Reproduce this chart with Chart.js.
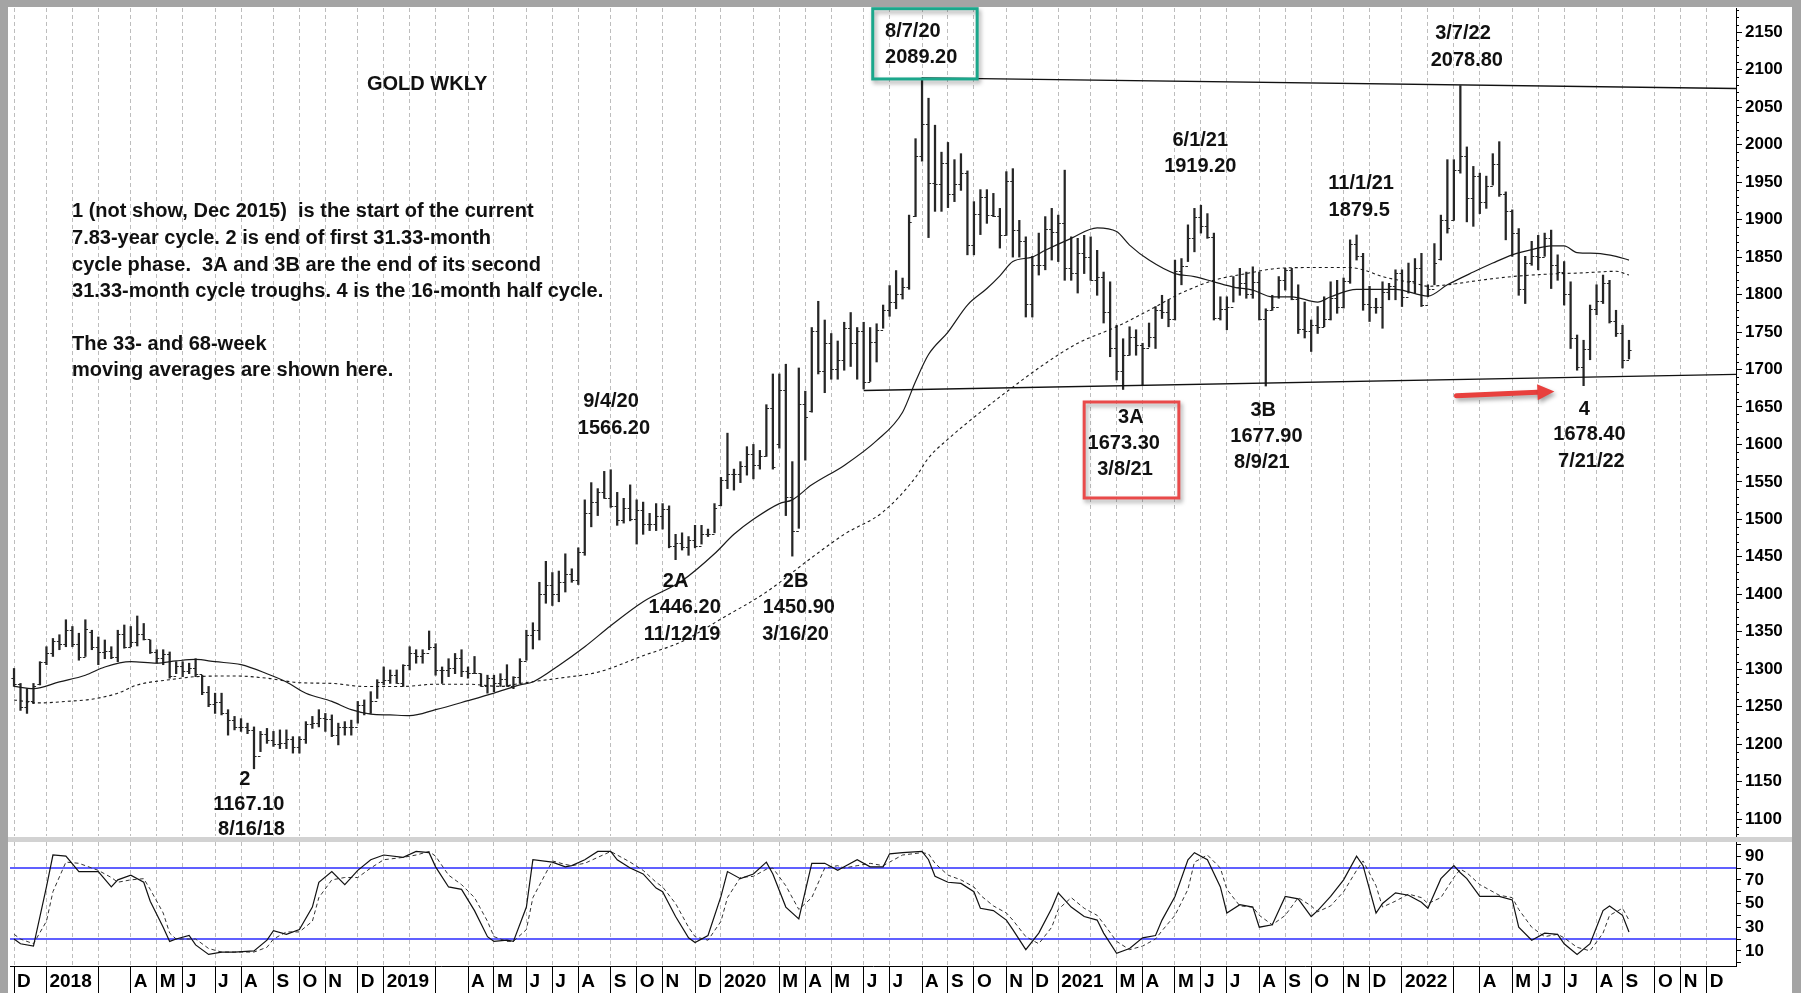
<!DOCTYPE html>
<html>
<head>
<meta charset="utf-8">
<script src="https://cdn.jsdelivr.net/npm/chart.js@4.4.1/dist/chart.umd.min.js"></script>
<style>
html, body { margin: 0; padding: 0; background: #a4a4a4; }
#wrap { position: relative; width: 1801px; height: 993px; overflow: hidden; }
#topPane { position: absolute; left: 8px; top: 7px; width: 1784px; height: 830px; background: #fff; }
#gap { position: absolute; left: 8px; top: 837px; width: 1784px; height: 5px; background: #d2d2d2; }
#botPane { position: absolute; left: 8px; top: 842px; width: 1784px; height: 151px; background: #fff; }
</style>
</head>
<body>
<div id="wrap">
  <div id="topPane"><canvas id="priceChart" width="1784" height="830"></canvas></div>
  <div id="gap"></div>
  <div id="botPane"><canvas id="stochChart" width="1784" height="151"></canvas></div>
</div>
<script>
// weekly bars, week 0 = week ending Fri 1 Dec 2017
var highs = [
  1301,1281,1274,1281,1310,1330,1341,1346,1366,1357,
  1348,1366,1352,1343,1339,1330,1352,1359,1357,1371,
  1361,1339,1326,1326,1323,1310,1310,1308,1314,1292,
  1277,1268,1268,1246,1237,1234,1228,1223,1217,1221,
  1217,1219,1219,1210,1210,1230,1237,1246,1241,1239,
  1228,1230,1232,1257,1259,1270,1286,1303,1299,1299,
  1306,1330,1326,1326,1351,1334,1303,1314,1321,1326,
  1303,1317,1294,1292,1292,1294,1306,1290,1314,1352,
  1362,1416,1444,1429,1431,1454,1434,1462,1526,1549,
  1541,1564,1566.2,1536,1528,1546,1526,1523,1508,1521,
  1521,1518,1480,1482,1477,1492,1492,1487,1521,1556,
  1615,1567,1577,1597,1600,1592,1653,1694,1694,1707,
  1577,1702,1671,1756,1791,1766,1748,1738,1763,1776,
  1756,1763,1756,1761,1786,1812,1832,1822,1906,2008,
  2089.2,2062,2026,1990,2003,1980,1988,1965,1924,1940,
  1940,1935,1915,1964,1968,1899,1877,1851,1882,1904,
  1915,1906,1966,1877,1875,1879,1877,1859,1830,1817,
  1759,1741,1757,1753,1735,1762,1784,1799,1793,1846,
  1848,1893,1915,1919.2,1908,1882,1797,1797,1824,1835,
  1830,1837,1830,1781,1799,1824,1835,1835,1813,1790,
  1766,1784,1797,1817,1819,1822,1873,1879.5,1855,1811,
  1795,1817,1815,1833,1833,1842,1848,1855,1813,1868,
  1906,1980,1980,2078.8,1997,1971,1962,1958,1988,2004,
  1937,1913,1888,1851,1871,1879,1882,1886,1853,1844,
  1817,1746,1739,1786,1813,1826,1819,1779,1759,1739
];
var lows = [
  1277,1245,1241,1254,1279,1306,1317,1326,1330,1330,
  1312,1317,1326,1306,1314,1314,1310,1328,1330,1331,
  1339,1321,1308,1306,1288,1294,1290,1294,1290,1266,
  1250,1241,1239,1212,1219,1217,1214,1167.1,1190,1201,
  1197,1194,1194,1188,1188,1201,1221,1223,1217,1210,
  1199,1212,1212,1228,1239,1241,1261,1279,1281,1281,
  1277,1299,1308,1308,1326,1292,1281,1290,1294,1290,
  1288,1294,1277,1268,1270,1277,1277,1274,1281,1312,
  1327,1339,1388,1385,1390,1403,1416,1413,1452,1490,
  1505,1528,1516,1492,1495,1498,1467,1480,1485,1485,
  1487,1462,1446.2,1459,1452,1462,1467,1477,1482,1518,
  1541,1539,1549,1559,1554,1567,1584,1567,1595,1505,
  1450.9,1488,1579,1643,1694,1669,1687,1687,1699,1704,
  1687,1674,1684,1710,1755,1771,1781,1794,1807,1904,
  1978,1876,1911,1911,1916,1924,1939,1853,1853,1880,
  1895,1904,1862,1879,1850,1850,1770,1770,1826,1833,
  1846,1844,1819,1819,1802,1828,1819,1799,1762,1717,
  1686,1673.3,1719,1719,1679,1730,1728,1768,1757,1766,
  1813,1844,1857,1882,1875,1766,1766,1753,1790,1799,
  1795,1795,1766,1677.9,1779,1795,1806,1793,1748,1742,
  1724,1748,1757,1766,1775,1782,1815,1846,1779,1764,
  1775,1755,1793,1793,1784,1802,1802,1784,1797,1813,
  1846,1882,1899,1962,1897,1891,1908,1915,1946,1931,
  1873,1851,1799,1788,1839,1833,1851,1808,1819,1786,
  1728,1699,1678.4,1713,1773,1788,1762,1744,1702,1714
];
var opens = [
  1288,1280,1249,1257,1280,1309,1322,1338,1333,1352,
  1333,1316,1350,1330,1323,1324,1316,1347,1329,1336,
  1347,1340,1323,1315,1320,1291,1304,1298,1302,1293,
  1270,1254,1256,1242,1232,1223,1223,1219,1184,1213,
  1206,1200,1201,1207,1196,1207,1227,1228,1235,1233,
  1212,1223,1223,1223,1252,1241,1258,1283,1286,1292,
  1282,1305,1322,1318,1322,1329,1299,1299,1302,1315,
  1298,1295,1295,1278,1288,1281,1287,1277,1289,1311,
  1346,1352,1400,1413,1400,1416,1427,1419,1457,1509,
  1523,1537,1529,1518,1499,1515,1500,1512,1494,1494,
  1505,1514,1465,1468,1463,1472,1465,1481,1481,1519,
  1552,1560,1560,1571,1587,1573,1584,1648,1600,1672,
  1530,1484,1654,1645,1752,1698,1735,1700,1713,1756,
  1735,1751,1683,1737,1753,1780,1790,1801,1810,1905,
  1985,2028,1949,1947,1975,1934,1947,1962,1866,1907,
  1930,1906,1905,1879,1951,1886,1872,1788,1840,1840,
  1888,1883,1895,1835,1829,1855,1850,1820,1823,1777,
  1728,1698,1719,1744,1733,1728,1744,1780,1777,1768,
  1832,1838,1876,1903,1891,1877,1769,1781,1783,1810,
  1815,1801,1817,1768,1779,1784,1819,1833,1794,1754,
  1751,1760,1757,1767,1796,1783,1818,1868,1852,1788,
  1783,1784,1804,1811,1829,1797,1818,1835,1786,1807,
  1848,1899,1900,1966,1985,1929,1958,1923,1945,1974,
  1934,1911,1882,1808,1842,1851,1850,1875,1840,1830,
  1801,1742,1703,1727,1781,1791,1815,1765,1749,1712
];
var closes = [
  1280,1249,1257,1278,1309,1322,1338,1333,1352,1333,
  1316,1353,1330,1323,1324,1316,1347,1329,1336,1347,
  1340,1323,1315,1320,1291,1304,1298,1302,1293,1270,
  1254,1256,1242,1232,1223,1223,1219,1184,1213,1206,
  1200,1201,1207,1196,1207,1227,1228,1235,1233,1212,
  1223,1223,1223,1252,1241,1258,1283,1286,1292,1282,
  1305,1322,1318,1322,1329,1299,1299,1302,1315,1298,
  1295,1295,1278,1288,1281,1287,1277,1289,1311,1346,
  1352,1400,1413,1400,1416,1427,1419,1457,1509,1523,
  1537,1529,1518,1499,1515,1500,1512,1494,1494,1505,
  1514,1465,1468,1463,1472,1465,1481,1481,1515,1552,
  1560,1560,1571,1587,1573,1584,1648,1570,1672,1530,
  1484,1654,1637,1752,1698,1735,1700,1713,1756,1735,
  1751,1683,1737,1753,1780,1790,1801,1810,1897,1985,
  2028,1949,1947,1975,1934,1947,1962,1866,1907,1930,
  1906,1905,1879,1951,1886,1872,1788,1840,1840,1888,
  1883,1895,1835,1829,1855,1850,1820,1823,1777,1728,
  1698,1719,1744,1733,1728,1744,1780,1777,1768,1832,
  1838,1876,1903,1891,1877,1769,1781,1783,1810,1815,
  1801,1817,1768,1779,1784,1819,1833,1794,1754,1751,
  1760,1757,1767,1796,1783,1818,1868,1852,1788,1783,
  1784,1804,1811,1829,1797,1818,1835,1786,1807,1842,
  1899,1889,1966,1985,1929,1958,1923,1945,1974,1934,
  1911,1882,1808,1842,1851,1850,1875,1840,1830,1801,
  1742,1703,1727,1781,1791,1815,1765,1749,1712,1726
];

// 33-week moving average (solid)
var ma33Weeks = [0,3,7,11,14,18,22,25,28,31,35,39,42,45,49,52,55,58,61,65,70,74,78,80,84,88,92,97,103,108,
  111,114,118,120,123,128,133,137,139,141,144,147,150,152,154,157,159,163,167,170,172,175,179,182,185,188,191,194,197,201,
  203,207,213,218,221,225,228,231,234,237,239,241,244,247,249];
var ma33 = [1277,1274,1283,1292,1303,1310,1308,1311,1313,1310,1306,1294,1283,1268,1257,1246,1240,1239,1238,1246,
  1258,1268,1279,1283,1305,1330,1358,1390,1418,1454,1480,1500,1521,1526,1546,1572,1605,1643,1684,1720,
  1750,1786,1808,1825,1844,1850,1859,1875,1889,1884,1866,1846,1828,1824,1817,1810,1806,1797,1797,1790,
  1797,1807,1807,1798,1813,1830,1842,1853,1860,1865,1865,1856,1855,1851,1846];

// 68-week moving average (dotted)
var ma68Weeks = [0,4,8,12,16,19,24,28,34,39,44,49,54,60,65,70,75,78,84,90,97,103,109,116,123,128,134,139,141,144,
  149,153,159,164,170,175,180,185,190,195,200,206,208,211,216,218,221,226,231,236,242,247,249];
var ma68 = [1259,1255,1257,1260,1268,1279,1286,1290,1291,1288,1282,1281,1277,1277,1280,1280,1277,1281,1288,1296,
  1318,1337,1367,1403,1449,1480,1510,1556,1582,1607,1643,1670,1708,1735,1757,1779,1802,1819,1828,1835,
  1836,1836,1833,1824,1815,1811,1813,1819,1824,1827,1829,1831,1826];

// trend lines [week, price]
var resistanceLine = [[140, 2089.2], [265.5, 2075]];
var supportLine = [[131, 1672], [265.5, 1693.5]];

// stochastic (lower panel)
var stochWeeks = [0,1,3,5,6,8,10,13,15,16,18,20,21,23,24,25,27,28,30,32,34,37,39,40,42,44,46,47,49,51,
  53,55,57,60,62,64,65,67,69,71,73,74,76,77,79,80,83,85,86,88,90,92,93,95,97,99,100,102,104,105,
  107,109,110,112,114,116,117,119,121,123,125,127,128,130,132,134,135,137,140,141,142,144,146,148,149,151,153,154,156,158,
  160,161,163,165,167,168,170,172,174,176,177,179,181,182,184,186,187,189,191,192,194,196,198,200,201,203,205,207,208,210,
  211,213,215,217,218,220,222,223,224,226,229,231,232,234,236,238,239,241,243,245,246,248,249];
var stochK = [20,16,14,64,91,90,77,77,64,70,74,68,52,30,18,20,23,15,7,9,9,10,19,27,24,28,47,68,77,66,
  78,87,91,89,94,93,81,64,62,44,22,18,19,18,47,87,85,81,82,87,94,94,87,80,75,63,60,39,21,17,
  23,56,77,71,75,85,75,47,37,84,84,78,81,87,81,81,92,93,94,87,73,68,67,60,46,44,36,28,11,25,
  46,59,47,39,36,25,8,12,21,23,36,56,87,93,87,64,42,49,47,30,32,56,54,39,44,56,70,90,82,42,
  50,59,57,51,46,71,82,76,71,56,56,53,30,19,25,24,16,7,16,44,48,40,26];
var stochD = [24,20,16,35,60,85,84,78,72,68,70,71,62,42,25,20,20,20,12,9,9,9,13,20,26,26,35,55,70,72,
  72,80,87,89,91,94,90,74,66,55,35,22,18,18,28,55,86,83,82,84,89,94,91,85,78,68,64,50,30,22,
  19,35,55,72,73,79,80,65,45,55,80,82,80,82,84,82,85,91,93,92,84,74,70,64,57,48,42,36,22,16,
  30,45,55,46,40,33,18,11,14,20,27,40,62,85,91,80,62,48,47,40,32,40,55,48,43,48,60,78,86,65,
  47,52,58,55,50,55,72,79,76,66,57,55,45,30,22,24,21,13,10,25,40,46,36];
var stochLevels = [20, 80];

// axis ticks
var monthWeeks = [0,5,9,13,18,22,26,31,35,40,44,48,53,57,61,65,70,74,79,83,87,92,96,100,105,
  109,114,118,122,126,131,135,140,144,148,153,157,161,166,170,174,179,183,187,192,196,200,205,209,
  214,218,222,226,231,235,239,244,248,253,257,261];
var monthLabels = ['D','2018','','','A','M','J','J','A','S','O','N','D','2019','','','A','M','J','J','A','S','O','N','D',
  '2020','','M','A','M','J','J','A','S','O','N','D','2021','','M','A','M','J','J','A','S','O','N','D',
  '2022','','','A','M','J','J','A','S','O','N','D'];
var priceLabels = [1100,1150,1200,1250,1300,1350,1400,1450,1500,1550,1600,1650,1700,1750,1800,1850,1900,1950,2000,2050,2100,2150];
var stochLabels = [10,30,50,70,90];

// annotations: text placed at [week, price]
var notes = [
  ['GOLD WKLY', 63.7, 2079.7, 'center'],
  ['1 (not show, Dec 2015)  is the start of the current', 8.94, 1910.6, 'left'],
  ['7.83-year cycle. 2 is end of first 31.33-month', 8.94, 1875.1, 'left'],
  ['cycle phase.  3A and 3B are the end of its second', 8.94, 1839.4, 'left'],
  ['31.33-month cycle troughs. 4 is the 16-month half cycle.', 8.94, 1803.8, 'left'],
  ['The 33- and 68-week', 8.94, 1732.7, 'left'],
  ['moving averages are shown here.', 8.94, 1699.3, 'left'],
  ['8/7/20', 134.3, 2150.4, 'left'],
  ['2089.20', 134.3, 2115.7, 'left'],
  ['6/1/21', 182.9, 2006.2, 'center'],
  ['1919.20', 182.9, 1971.5, 'center'],
  ['11/1/21', 207.7, 1948.5, 'center'],
  ['1879.5', 207.4, 1912.8, 'center'],
  ['3/7/22', 223.4, 2148.7, 'center'],
  ['2078.80', 224.0, 2113.0, 'center'],
  ['9/4/20', 92.05, 1656.9, 'center'],
  ['1566.20', 92.5, 1621.2, 'center'],
  ['2A', 102.0, 1417.5, 'center'],
  ['1446.20', 103.4, 1381.7, 'center'],
  ['11/12/19', 103.0, 1346.9, 'center'],
  ['2B', 120.5, 1417.5, 'center'],
  ['1450.90', 121.0, 1381.7, 'center'],
  ['3/16/20', 120.5, 1346.9, 'center'],
  ['3A', 172.2, 1636.2, 'center'],
  ['1673.30', 171.1, 1601.5, 'center'],
  ['3/8/21', 171.3, 1565.9, 'center'],
  ['3B', 192.6, 1645.9, 'center'],
  ['1677.90', 193.1, 1611.2, 'center'],
  ['8/9/21', 192.4, 1575.6, 'center'],
  ['4', 242.1, 1646.9, 'center'],
  ['1678.40', 242.9, 1612.6, 'center'],
  ['7/21/22', 243.2, 1576.9, 'center'],
  ['2', 35.6, 1153.1, 'center'],
  ['1167.10', 36.2, 1118.8, 'center'],
  ['8/16/18', 36.6, 1085.6, 'center']
];
var boxes = [
  {from: [132.4, 2181.5], to: [148.5, 2087.7], color: '#1ba78b'},
  {from: [165.0, 1656.6], to: [179.6, 1528.5], color: '#e94a4a'}
];
var arrow = {from: [222.4, 1664.9], to: [237.5, 1670.6], color: '#e8403d'};

var xMin = -0.62, xMax = 265.5;
var FONT = "'Liberation Sans', Arial, sans-serif";
Chart.defaults.font.family = FONT;
Chart.defaults.color = '#000';

function pts(xs, ys) { return xs.map(function (x, i) { return {x: x, y: ys[i]}; }); }
function pairPts(arr) { return arr.map(function (p) { return {x: p[0], y: p[1]}; }); }

function monthAxis(showLabels) {
  return {
    type: 'linear', min: xMin, max: xMax, offset: false,
    afterBuildTicks: function (s) { s.ticks = monthWeeks.map(function (v) { return {value: v}; }); },
    afterFit: function (s) { s.height = showLabels ? 27 : 0; s.paddingLeft = 0; s.paddingRight = 0; },
    grid: {
      color: '#bdbdbd', lineWidth: 1, offset: false, borderDash: [4, 3],
      drawTicks: showLabels, tickLength: 27, tickWidth: 1, tickBorderDash: [],
      tickColor: function (c) {
        var i = c.index;
        if (monthLabels[i] === '' && i > 0 && /^\d{4}$/.test(monthLabels[i - 1])) return 'rgba(0,0,0,0)';
        return '#000';
      }
    },
    border: { display: showLabels, color: '#000', width: 1, dash: [4, 3] },
    ticks: {
      display: showLabels, autoSkip: false, maxRotation: 0, minRotation: 0,
      align: 'start', labelOffset: 3, padding: -23,
      font: { size: 19, weight: 'bold' },
      callback: function (v, i) { return monthLabels[i]; }
    }
  };
}

// price chart helpers
var ohlcTicks = {
  id: 'ohlcTicks',
  afterDatasetsDraw: function (chart) {
    var meta = chart.getDatasetMeta(0), y = chart.scales.y, ctx = chart.ctx;
    ctx.save();
    ctx.strokeStyle = '#262626';
    ctx.lineWidth = 1;
    meta.data.forEach(function (bar, i) {
      var yo = Math.round(y.getPixelForValue(opens[i])) + 0.5;
      var yc = Math.round(y.getPixelForValue(closes[i])) + 0.5;
      ctx.beginPath();
      ctx.moveTo(bar.x - 2.6, yo); ctx.lineTo(bar.x, yo);
      ctx.moveTo(bar.x, yc); ctx.lineTo(bar.x + 2.6, yc);
      ctx.stroke();
    });
    ctx.restore();
  }
};

var minorTicks = {
  id: 'minorTicks',
  afterDraw: function (chart) {
    var y = chart.scales.y, ctx = chart.ctx, x0 = chart.chartArea.right;
    ctx.save();
    ctx.strokeStyle = '#000';
    ctx.lineWidth = 1;
    ctx.beginPath();
    for (var v = 1080; v <= 2180; v += 10) {
      if (v % 50 === 0) continue;
      var py = Math.round(y.getPixelForValue(v)) + 0.5;
      ctx.moveTo(x0, py); ctx.lineTo(x0 + 3, py);
    }
    ctx.stroke();
    ctx.restore();
  }
};

var notesPlugin = {
  id: 'notes',
  afterDatasetsDraw: function (chart) {
    var xs = chart.scales.x, ys = chart.scales.y, ctx = chart.ctx, a = chart.chartArea;
    // boxes
    ctx.save();
    boxes.forEach(function (b) {
      var x1 = xs.getPixelForValue(b.from[0]), y1 = ys.getPixelForValue(b.from[1]);
      var x2 = xs.getPixelForValue(b.to[0]), y2 = ys.getPixelForValue(b.to[1]);
      ctx.shadowColor = 'rgba(0,0,0,0.35)';
      ctx.shadowBlur = 4; ctx.shadowOffsetX = 2; ctx.shadowOffsetY = 3;
      ctx.strokeStyle = b.color; ctx.lineWidth = 3;
      ctx.strokeRect(x1, y1, x2 - x1, y2 - y1);
    });
    ctx.restore();
    // arrow
    ctx.save();
    var ax1 = xs.getPixelForValue(arrow.from[0]), ay1 = ys.getPixelForValue(arrow.from[1]);
    var ax2 = xs.getPixelForValue(arrow.to[0]), ay2 = ys.getPixelForValue(arrow.to[1]);
    var ang = Math.atan2(ay2 - ay1, ax2 - ax1), head = 17, half = 8;
    var bx = ax2 - head * Math.cos(ang), by = ay2 - head * Math.sin(ang);
    ctx.shadowColor = 'rgba(0,0,0,0.35)';
    ctx.shadowBlur = 4; ctx.shadowOffsetX = 2; ctx.shadowOffsetY = 3;
    ctx.fillStyle = arrow.color; ctx.strokeStyle = arrow.color;
    ctx.lineWidth = 5; ctx.lineCap = 'round';
    ctx.beginPath(); ctx.moveTo(ax1, ay1); ctx.lineTo(bx, by); ctx.stroke();
    ctx.beginPath();
    ctx.moveTo(ax2, ay2);
    ctx.lineTo(bx + half * Math.sin(ang), by - half * Math.cos(ang));
    ctx.lineTo(bx - half * Math.sin(ang), by + half * Math.cos(ang));
    ctx.closePath(); ctx.fill();
    ctx.restore();
    // text
    ctx.save();
    ctx.beginPath(); ctx.rect(a.left, a.top, a.right - a.left, a.bottom - a.top); ctx.clip();
    ctx.font = 'bold 20px ' + FONT;
    ctx.fillStyle = '#111';
    ctx.textBaseline = 'middle';
    notes.forEach(function (n) {
      ctx.textAlign = n[3];
      ctx.fillText(n[0], xs.getPixelForValue(n[1]), ys.getPixelForValue(n[2]));
    });
    ctx.restore();
  }
};

new Chart(document.getElementById('priceChart'), {
  type: 'bar',
  data: {
    datasets: [
      {
        label: 'Gold weekly',
        data: highs.map(function (h, i) { return {x: i, y: [lows[i], h]}; }),
        backgroundColor: '#262626', borderWidth: 0, barThickness: 1.6, order: 3
      },
      { type: 'line', label: '33-week MA', data: pts(ma33Weeks, ma33), borderColor: '#1a1a1a', borderWidth: 1.2,
        pointRadius: 0, tension: 0.35, cubicInterpolationMode: 'monotone', order: 2 },
      { type: 'line', label: '68-week MA', data: pts(ma68Weeks, ma68), borderColor: '#1a1a1a', borderWidth: 1.1,
        borderDash: [3, 3], pointRadius: 0, tension: 0.35, cubicInterpolationMode: 'monotone', order: 2 },
      { type: 'line', label: 'resistance', data: pairPts(resistanceLine), borderColor: '#111', borderWidth: 1.4, pointRadius: 0, order: 1 },
      { type: 'line', label: 'support', data: pairPts(supportLine), borderColor: '#111', borderWidth: 1.4, pointRadius: 0, order: 1 }
    ]
  },
  options: {
    responsive: false, animation: false, devicePixelRatio: 1,
    layout: { padding: { left: 2, top: 1, right: 0, bottom: 1 }, autoPadding: false },
    plugins: { legend: { display: false }, tooltip: { enabled: false } },
    scales: {
      x: monthAxis(false),
      y: {
        position: 'right', min: 1077.4, max: 2182.4,
        afterBuildTicks: function (s) { s.ticks = priceLabels.map(function (v) { return {value: v}; }); },
        afterFit: function (s) { s.width = 56; s.paddingTop = 0; s.paddingBottom = 0; },
        grid: { drawOnChartArea: false, tickLength: 6, tickColor: '#000' },
        border: { display: true, color: '#000', width: 1 },
        ticks: {
          autoSkip: false, padding: 3, font: { size: 17, weight: 'bold' }, color: '#000',
          callback: function (v) { return String(v); }
        }
      }
    }
  },
  plugins: [ohlcTicks, minorTicks, notesPlugin]
});

new Chart(document.getElementById('stochChart'), {
  type: 'line',
  data: {
    datasets: [
      { label: '%K', data: pts(stochWeeks, stochK), borderColor: '#111', borderWidth: 1.2, pointRadius: 0, tension: 0 },
      { label: '%D', data: pts(stochWeeks, stochD), borderColor: '#333', borderWidth: 1, borderDash: [4, 3], pointRadius: 0, tension: 0 },
      { label: 'upper', data: [{x: xMin, y: stochLevels[1]}, {x: xMax, y: stochLevels[1]}], borderColor: '#2b2bff', borderWidth: 1.6, pointRadius: 0 },
      { label: 'lower', data: [{x: xMin, y: stochLevels[0]}, {x: xMax, y: stochLevels[0]}], borderColor: '#2b2bff', borderWidth: 1.6, pointRadius: 0 }
    ]
  },
  options: {
    responsive: false, animation: false, devicePixelRatio: 1,
    layout: { padding: { left: 2, top: 0, right: 0, bottom: 0 }, autoPadding: false },
    plugins: { legend: { display: false }, tooltip: { enabled: false } },
    scales: {
      x: monthAxis(true),
      y: {
        position: 'right', min: -2.8, max: 102,
        afterBuildTicks: function (s) {
          var t = [];
          for (var v = 0; v <= 100; v += 10) t.push({value: v});
          s.ticks = t;
        },
        afterFit: function (s) { s.width = 56; s.paddingTop = 0; s.paddingBottom = 0; },
        grid: { drawOnChartArea: false, tickLength: 5, tickColor: '#000' },
        border: { display: true, color: '#000', width: 1 },
        ticks: {
          autoSkip: false, padding: 4, font: { size: 17, weight: 'bold' }, color: '#000',
          callback: function (v) { return stochLabels.indexOf(v) >= 0 ? String(v) : ''; }
        }
      }
    }
  }
});
</script>
</body>
</html>
